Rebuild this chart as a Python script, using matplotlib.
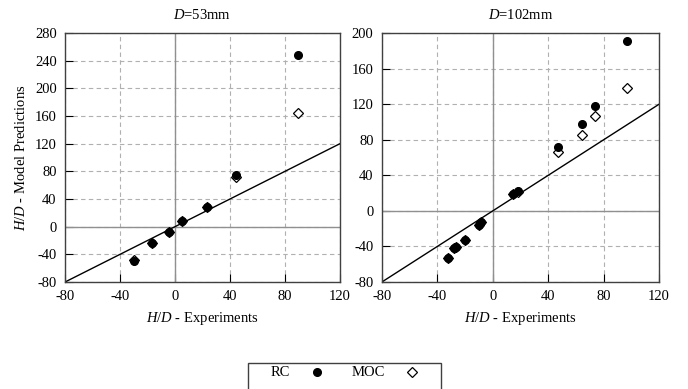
import matplotlib
matplotlib.use("Agg")
import matplotlib.pyplot as plt
from matplotlib.lines import Line2D
from matplotlib.patches import Rectangle

plt.rcParams['font.family'] = ['Liberation Serif', 'DejaVu Serif']
plt.rcParams['mathtext.fontset'] = 'custom'
plt.rcParams['mathtext.rm'] = 'Liberation Serif'
plt.rcParams['mathtext.it'] = 'Liberation Serif:italic'
plt.rcParams['axes.unicode_minus'] = False
plt.rcParams['font.size'] = 10.5

# D = 53 mm
x53 = [-29.6, -17, -4.4, 5.3, 23, 44.4, 89.2]
rc53 = [-49.6, -23.5, -7.6, 8.4, 29, 74.6, 247.6]
moc53 = [-47.7, -23.5, -7.6, 8.4, 29, 71.2, 165]

# D = 102 mm
x102 = [-32.3, -28.2, -26.3, -20.2, -10.1, -8.2, 14.5, 18.1, 47.2, 64.6, 73.7, 96.6]
rc102 = [-52.9, -41.6, -40.5, -33, -16, -12.3, 18.5, 22.6, 72.2, 98.2, 118, 190.6]
moc102 = [-52.9, -41.6, -40.5, -33, -16, -12.3, 18.5, 21.5, 66.6, 85.4, 106.8, 138.7]

xticks = [-80, -40, 0, 40, 80, 120]
yticks53 = list(range(-80, 281, 40))
yticks102 = list(range(-80, 201, 40))

fig = plt.figure(figsize=(6.88, 3.89), dpi=100)
ax1 = fig.add_axes([0.0945, 0.275, 0.3995, 0.64])
ax2 = fig.add_axes([0.555, 0.275, 0.403, 0.64])

panels = [
    (ax1, x53, rc53, moc53, yticks53, '$D$=53mm'),
    (ax2, x102, rc102, moc102, yticks102, '$D$=102mm'),
]

for ax, x, rc, moc, yt, title in panels:
    ax.set_xlim(-80, 120)
    ax.set_ylim(yt[0], yt[-1])
    ax.set_xticks(xticks)
    ax.set_yticks(yt)
    ax.grid(True, linestyle=(0, (4, 3)), color='#b0b0b0', linewidth=0.8)
    ax.axhline(0, color='#909090', linewidth=1.0)
    ax.axvline(0, color='#909090', linewidth=1.0)
    ax.plot([-80, 120], [-80, 120], color='black', linewidth=1.0)
    ax.plot(x, moc, linestyle='none', marker='D', markersize=5.5,
            markerfacecolor='white', markeredgecolor='black',
            markeredgewidth=0.9, zorder=3)
    ax.plot(x, rc, linestyle='none', marker='o', markersize=5.5,
            color='black', zorder=4)
    ax.tick_params(direction='in', length=6, width=0.8, labelsize=10.5,
                   pad=6, top=False, right=False)
    for s in ax.spines.values():
        s.set_color('#404040')
        s.set_linewidth(1.0)
    ax.set_title(title, fontsize=10.5, pad=10)
    ax.set_xlabel('$H/D$ - Experiments', fontsize=10.5, labelpad=5)

ax1.set_ylabel('$H/D$ - Model Predictions', fontsize=10.5, labelpad=5)

# legend box, drawn by hand to get the wide inner spacing
W, H = 688.0, 389.0
fig.add_artist(Rectangle((248 / W, -0.05), 193 / W, 0.05 + (H - 363) / H,
                         transform=fig.transFigure, facecolor='white',
                         edgecolor='#404040', linewidth=1.0))
ly = (H - 372) / H
fig.text(280 / W, ly, 'RC', ha='center', va='center', fontsize=10.5)
fig.text(368 / W, ly, 'MOC', ha='center', va='center', fontsize=10.5)
fig.add_artist(Line2D([317 / W], [ly], transform=fig.transFigure,
                      marker='o', markersize=5.5, color='black'))
fig.add_artist(Line2D([412 / W], [ly], transform=fig.transFigure,
                      marker='D', markersize=5.5, markerfacecolor='white',
                      markeredgecolor='black', markeredgewidth=0.9))

fig.savefig('out.png', dpi=100)
